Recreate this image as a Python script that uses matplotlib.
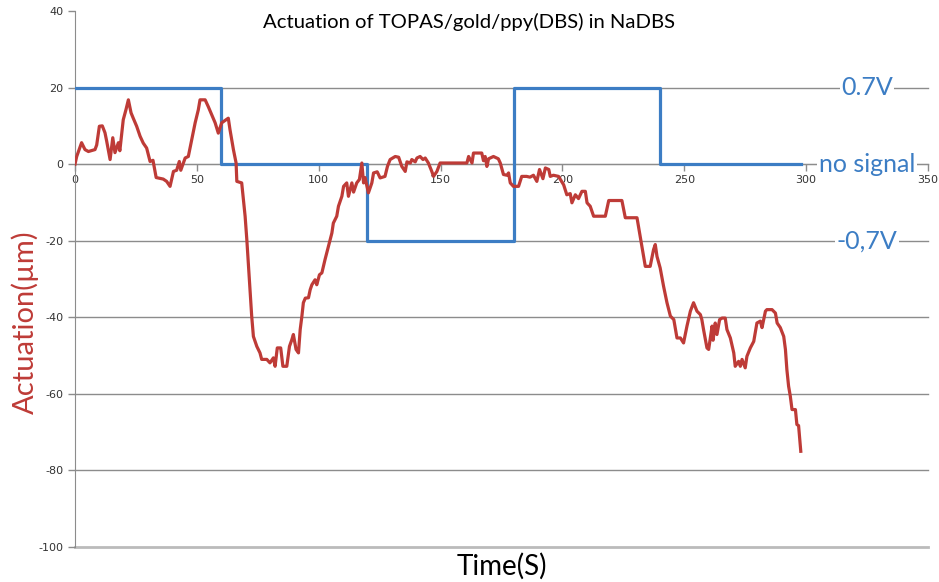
import matplotlib
matplotlib.use("Agg")
import matplotlib.pyplot as plt

plt.rcParams["axes.unicode_minus"] = False

# time (s) and actuation (um) of the film
time_s = [
    0, 0.7, 2.7, 4.1, 5.5, 8.2, 8.9, 10, 11.2, 12.3,
    13, 14.4, 15.5, 16.4, 17.8, 18.4, 19.8, 20.9, 21.9, 23,
    23.9, 25.3, 26.7, 28, 29.4, 30.8, 32, 33.3, 36.2, 37.6,
    39, 40.4, 41.7, 42.8, 43.4, 45.2, 46.5, 47.9, 49.3, 50.6,
    51.3, 53.4, 54.7, 56.1, 57.5, 58.8, 60.2, 62.9, 63.6, 65,
    66.1, 66.4, 68.4, 69.1, 69.8, 70.5, 71.2, 71.8, 72.5, 73.2,
    74.6, 75.9, 76.6, 78.7, 80, 81.4, 82.1, 83, 84.4, 85.3,
    86.9, 88, 89, 89.6, 90.7, 91.7, 92.4, 93.1, 93.7, 94.5,
    95.8, 96.5, 97.2, 98.5, 99.2, 100.3, 101.3, 102.6, 104, 105.4,
    106, 107.4, 108.1, 109.5, 110.2, 111.5, 112.2, 113.6, 114.3, 115.6,
    116.7, 117.7, 118.4, 119, 120.4, 121.8, 122.5, 124, 125.2, 127.2,
    128.2, 129.3, 131.4, 132.8, 134.1, 135.5, 136.2, 137.6, 138.2, 139.6,
    140.3, 141.6, 142.8, 143.7, 145, 146.4, 147.1, 148.5, 149.8, 160.8,
    161.5, 162.9, 163.5, 166.9, 167.6, 168.3, 169, 169.7, 171.7, 173.7,
    174.5, 175.8, 177.2, 177.9, 178.6, 179.9, 182, 183.3, 185.3, 186.7,
    188.1, 189.5, 190.6, 192, 193, 194.4, 195, 196.3, 198.4, 200.5,
    201.8, 203.2, 203.9, 205.3, 206.6, 208, 209.4, 210.1, 211.4, 212.8,
    217.6, 219, 224.4, 225.8, 230.6, 231.9, 232.6, 234, 236, 237.4,
    238.1, 238.8, 240.1, 241.5, 242.9, 244.3, 245.7, 247, 248.4, 249.7,
    251.1, 252.5, 253.8, 255.2, 256.6, 257.2, 257.9, 259.3, 260, 261.4,
    261.8, 262.7, 263.4, 264.5, 265.5, 266.8, 267.5, 268.9, 270.3, 270.9,
    272.3, 273, 273.7, 275, 275.7, 277.1, 278.5, 279.8, 281.2, 281.9,
    283.3, 283.9, 286, 287.4, 288.1, 289.4, 290.8, 291.5, 292.1, 292.8,
    293.5, 294.2, 295.6, 296.2, 296.9, 297.8,
]
actuation = [
    0, 2, 5.6, 3.8, 3.3, 3.8, 5, 9.9, 10, 8.2,
    6, 1.2, 6.9, 3, 5.6, 3.5, 11.6, 14.2, 16.8, 13.4,
    12, 9.9, 7.3, 5.5, 4.2, 0.7, 1, -3.5, -3.9, -4.5,
    -5.8, -1.9, -1.6, 0.7, -1.6, 1.6, 2, 6.4, 10.8, 14.2,
    16.8, 16.8, 15, 12.9, 10.8, 8.1, 10.8, 12, 9, 3.8,
    0.3, -4.5, -4.9, -9.3, -13.6, -19.7, -26.7, -32.8, -39.7, -45,
    -47.6, -49.3, -51, -51, -51.9, -50.6, -52.8, -48, -48, -52.8,
    -52.8, -47.6, -45.8, -44.5, -48.4, -49.3, -43.2, -39.7, -36.2, -35,
    -34.9, -32.8, -31.5, -30.2, -31.5, -28.9, -28.4, -24.9, -21.5, -18,
    -15.4, -13.6, -11, -8.4, -5.8, -4.9, -8.4, -4.9, -7.3, -4.9,
    -4, 0.3, -4.9, -3.5, -7.5, -4.9, -2.3, -2, -3.6, -3.2,
    -0.6, 1.2, 2, 1.8, -0.6, -1.9, 0.6, 0.3, 1.2, 0.6,
    1.6, 2, 1.2, 1.6, 0.3, -1.9, -3.2, -1.9, 0.3, 0.3,
    2, 0.3, 2.9, 2.9, 0.9, 2, -0.6, 1.4, 2, 1.4,
    0.3, -2.7, -2.9, -2.3, -4.9, -5.8, -5.8, -3.2, -3.2, -3.4,
    -2.9, -4.5, -1.4, -3.8, -1, -1.4, -3.2, -2.9, -3.2, -5.4,
    -8, -7.7, -10.1, -8, -9, -7.1, -7.1, -10.1, -11, -13.6,
    -13.6, -9.5, -9.5, -14, -14, -18.8, -21.5, -26.7, -26.7, -22.3,
    -21, -24.1, -27.1, -31.9, -36.2, -39.7, -40.6, -45.4, -45.4, -46.7,
    -42.3, -38.4, -36.2, -38.4, -39.3, -40.6, -43.2, -48, -48.4, -42.3,
    -46, -41.5, -44.5, -40.6, -40.2, -40.2, -43.2, -45.4, -49.3, -52.8,
    -51.5, -52.8, -51, -53.2, -50.2, -48, -46.3, -41.5, -41, -42.7,
    -38.4, -38, -38, -38.9, -41.5, -42.7, -45, -48.4, -53.7, -58,
    -60.6, -64.1, -64.1, -68, -68.3, -75,
]

# applied voltage program (drawn on the same scale: 20 = +0.7V, -20 = -0.7V)
signal_t = [0, 60, 120, 180, 240, 298]
signal_level = [20, 0, -20, 20, 0, 0]
signal_names = ["0.7V", "no signal", "-0,7V"]
signal_name_y = [20, 0, -20]

red = "#BE3B37"
blue = "#3C7DC4"
grey = "#8C8C8C"

fig = plt.figure(figsize=(9.39, 5.82), dpi=100)
ax = fig.add_axes([75 / 939, 1 - 547 / 582, 853 / 939, 536 / 582])

ax.plot(signal_t, signal_level, drawstyle="steps-post", color=blue, lw=2.3, zorder=3)
ax.plot(time_s, actuation, color=red, lw=2.3, zorder=4)

ax.set_xlim(0, 350)
ax.set_ylim(-100, 40)
ax.set_xticks(range(0, 351, 50))
ax.set_yticks(range(-100, 41, 20))

ax.yaxis.grid(True, color=grey, lw=1)
ax.set_axisbelow(True)
for gl in ax.get_ygridlines():
    gl.set_clip_on(False)
ax.get_ygridlines()[0].set_color("#BBBBBB")
ax.get_ygridlines()[0].set_linewidth(2)
ax.get_ygridlines()[-1].set_visible(False)

for s in ["top", "right"]:
    ax.spines[s].set_visible(False)
ax.spines["bottom"].set_position(("data", 0))
ax.spines["bottom"].set_color(grey)
ax.spines["left"].set_color(grey)
ax.tick_params(axis="both", colors=grey, length=5, width=1, labelsize=8,
               labelcolor="#333333")
ax.tick_params(axis="x", pad=3)

for name, y in zip(signal_names, signal_name_y):
    ax.text(325, y, name, color=blue, fontsize=18, family="Lato",
            ha="center", va="center", zorder=5,
            bbox=dict(facecolor="white", edgecolor="none", pad=1))

fig.text(469 / 939, 1 - 22 / 582, "Actuation of TOPAS/gold/ppy(DBS) in NaDBS",
         ha="center", va="center", fontsize=14.6, family="Lato", color="black")
fig.text(25 / 939, 1 - 322 / 582, "Actuation(µm)", rotation=90,
         ha="center", va="center", fontsize=21, family="Lato", color=red)
fig.text(502 / 939, 1 - 566 / 582, "Time(S)",
         ha="center", va="center", fontsize=20, family="Lato", color="black")

fig.savefig("out.png", dpi=100)
